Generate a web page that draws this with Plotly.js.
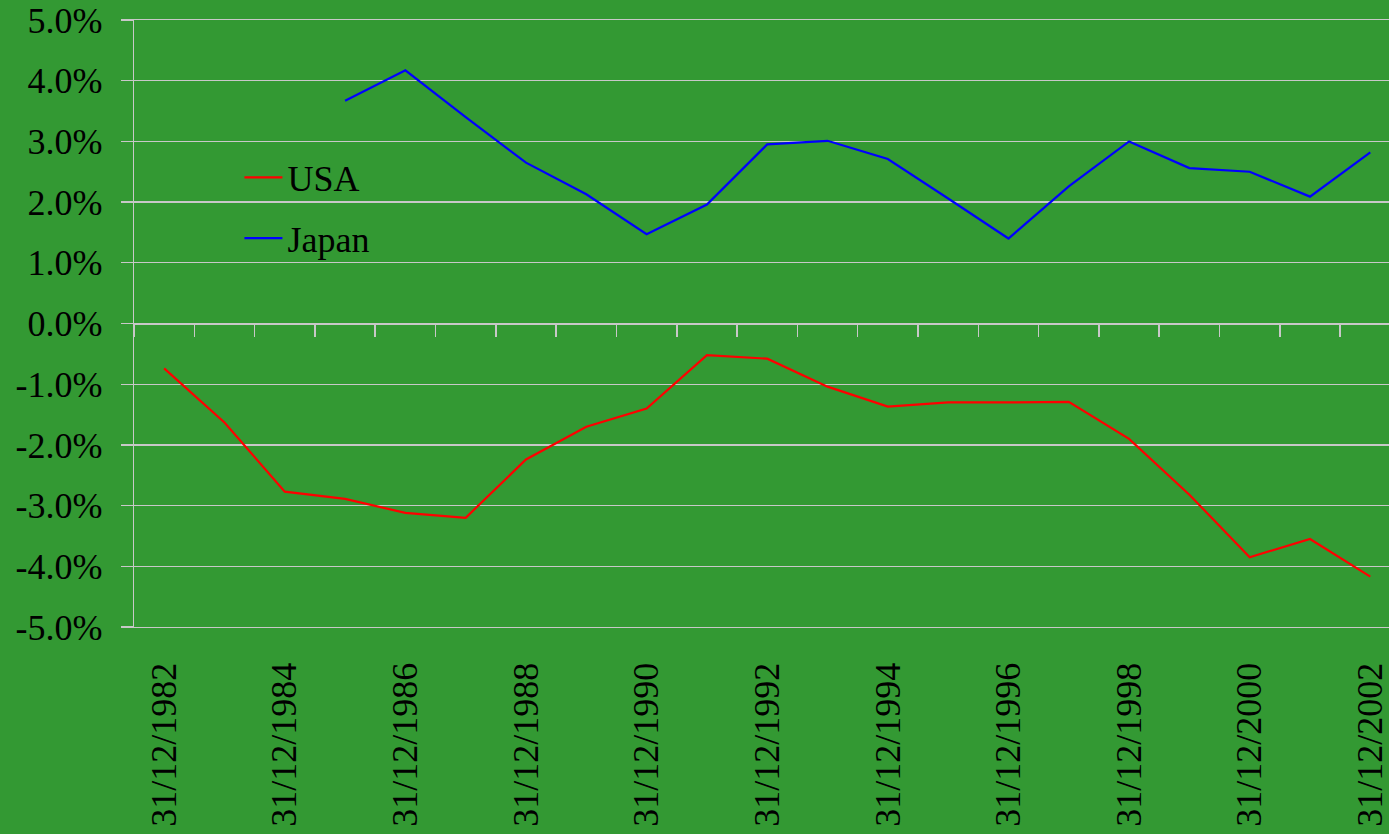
<!DOCTYPE html>
<html>
<head>
<meta charset="utf-8">
<script src="https://cdn.plot.ly/plotly-3.0.1.min.js"></script>
<style>html,body{margin:0;padding:0;background:#339933;}#chart{width:1389px;height:834px;}</style>
</head>
<body>
<div id="chart"></div>
<script>
const years = [1982,1983,1984,1985,1986,1987,1988,1989,1990,1991,1992,1993,1994,1995,1996,1997,1998,1999,2000,2001,2002];
const usa = [-0.74,-1.63,-2.77,-2.89,-3.12,-3.20,-2.24,-1.70,-1.40,-0.52,-0.58,-1.04,-1.37,-1.30,-1.30,-1.29,-1.90,-2.82,-3.85,-3.55,-4.17];
const japan = [null,null,null,3.67,4.17,3.40,2.65,2.13,1.47,1.96,2.95,3.01,2.71,2.06,1.40,2.26,3.00,2.56,2.50,2.09,2.82];
const dateLabels = years.map(y => '31/12/' + y);
const yTicks = [-5,-4,-3,-2,-1,0,1,2,3,4,5];

const idx = years.map((y, i) => i);
const labelIdx = idx.filter(i => i % 2 === 0);
const boundaries = idx.map(i => i - 0.5).concat([years.length - 0.5]);
const xRange = [-0.5, 20.31];
const font = {family: 'Liberation Serif', size: 36, color: '#000000'};
const grey = '#c8c8c8';

const traces = [
  {x: idx, y: usa, name: 'USA', type: 'scatter', mode: 'lines', line: {color: '#ff0000', width: 2.2}, legendgroup: 'a', xaxis: 'x', yaxis: 'y'},
  {x: idx, y: japan, name: 'Japan', type: 'scatter', mode: 'lines', line: {color: '#0000ff', width: 2.2}, legendgroup: 'b', connectgaps: false, xaxis: 'x2', yaxis: 'y'}
];

const layout = {
  width: 1389, height: 834,
  paper_bgcolor: '#339933', plot_bgcolor: '#339933',
  margin: {l: 134, r: 0, t: 20, b: 207, pad: 0},
  font: font,
  showlegend: true,
  legend: {x: 0.084, y: 0.79, xanchor: 'left', yanchor: 'top', bgcolor: 'rgba(0,0,0,0)', font: font, tracegroupgap: 11, traceorder: 'grouped', itemwidth: 38},
  xaxis: {
    type: 'linear', range: xRange, tickmode: 'array', tickvals: labelIdx,
    ticktext: labelIdx.map(i => dateLabels[i]), tickangle: -90,
    ticks: '', showgrid: false, zeroline: false,
    showline: true, mirror: true, linecolor: grey, linewidth: 1.3,
    ticklabelstandoff: 20, ticklabeloverflow: 'allow', tickfont: font
  },
  xaxis2: {
    type: 'linear', range: xRange, overlaying: 'x', anchor: 'free', position: 0.5, side: 'bottom',
    tickmode: 'array', tickvals: boundaries, showticklabels: false,
    ticks: 'outside', ticklen: 12, tickwidth: 1.5, tickcolor: grey,
    showline: true, linecolor: grey, linewidth: 1.5, showgrid: false, zeroline: false
  },
  yaxis: {
    range: [-5, 5], tickmode: 'array', tickvals: yTicks, ticktext: yTicks.map(v => v.toFixed(1) + '%'),
    showgrid: true, gridcolor: grey, gridwidth: 1.3, zeroline: false,
    showline: true, linecolor: grey, linewidth: 1.3,
    ticks: 'outside', ticklen: 12, tickcolor: grey, tickwidth: 1.3,
    ticklabelstandoff: 11, tickfont: font
  }
};

Plotly.newPlot('chart', traces, layout, {displayModeBar: false, staticPlot: true});
</script>
</body>
</html>
